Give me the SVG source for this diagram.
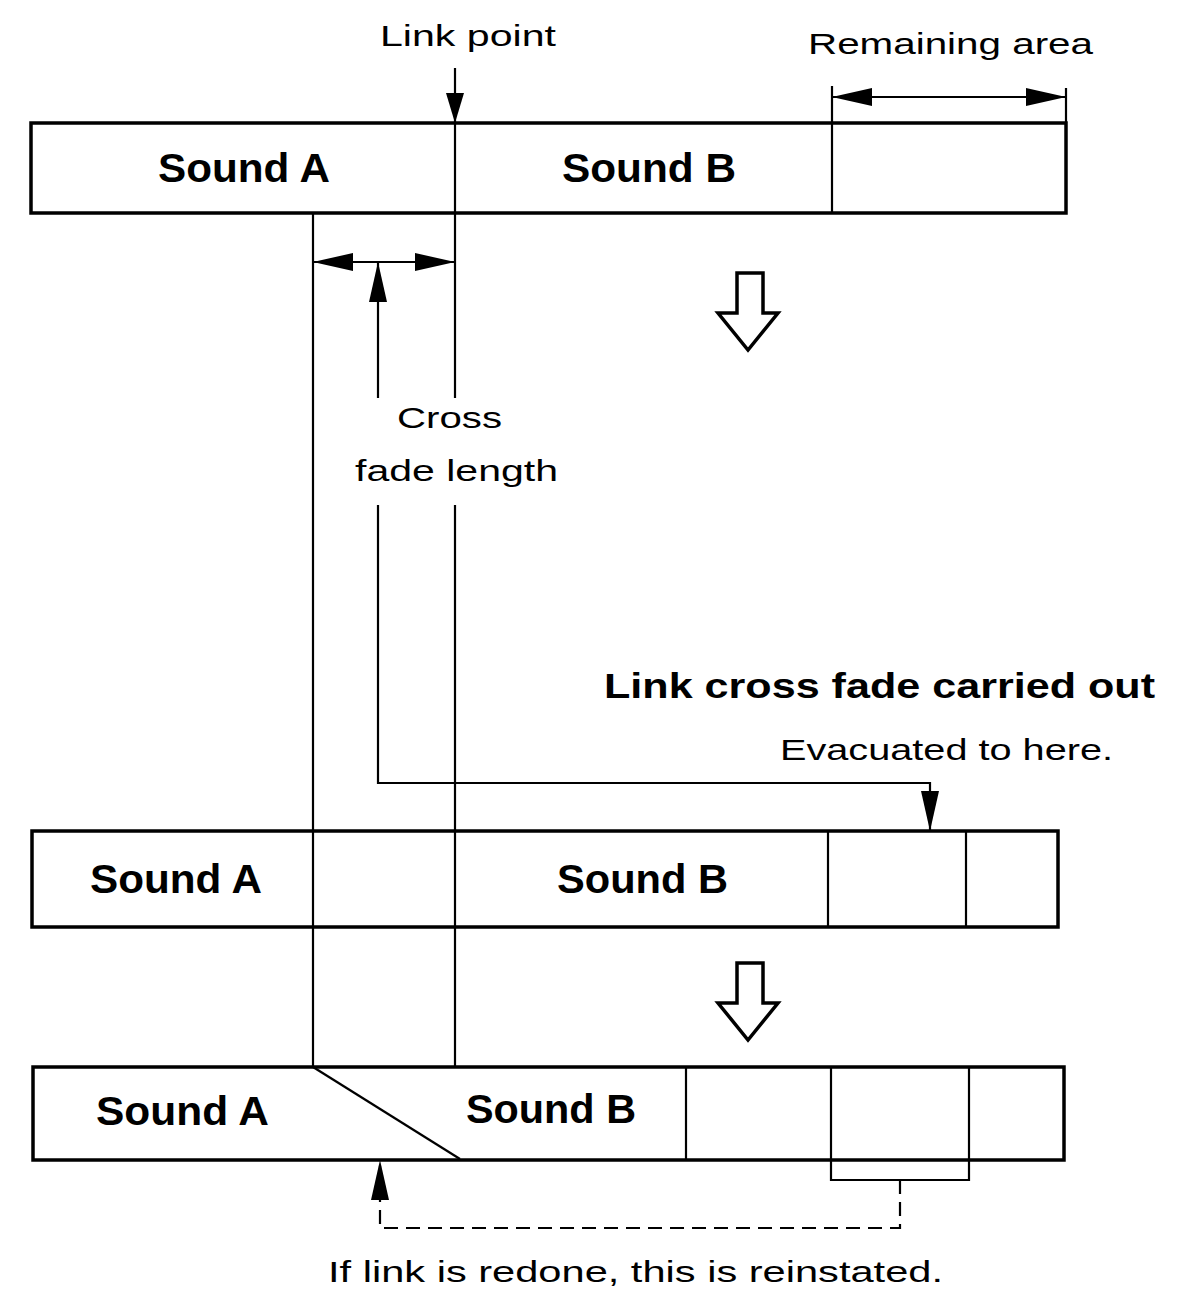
<svg xmlns="http://www.w3.org/2000/svg" width="1183" height="1290" viewBox="0 0 1183 1290">
<style>
.bg{fill:#fff}
.box{fill:#fff;stroke:#000;stroke-width:3.5}
.ln{fill:none;stroke:#000;stroke-width:2.2}
.dash{fill:none;stroke:#000;stroke-width:2.2;stroke-dasharray:14 8}
.hollow{fill:#fff;stroke:#000;stroke-width:3.5;stroke-linejoin:miter}
.t{font-family:"Liberation Sans",Arial,sans-serif;font-size:30px;fill:#000}
.tb{font-family:"Liberation Sans",Arial,sans-serif;font-size:40px;font-weight:bold;fill:#000}
.tm{font-family:"Liberation Sans",Arial,sans-serif;font-size:35px;font-weight:bold;fill:#000}
</style>
<defs>
<marker id="ah" viewBox="0 0 40 18" refX="40" refY="9" markerWidth="40" markerHeight="18" markerUnits="userSpaceOnUse" orient="auto-start-reverse"><path d="M0,0 L40,9 L0,18 z" fill="#000"/></marker>
<marker id="ahs" viewBox="0 0 30 18" refX="30" refY="9" markerWidth="30" markerHeight="18" markerUnits="userSpaceOnUse" orient="auto-start-reverse"><path d="M0,0 L30,9 L0,18 z" fill="#000"/></marker>
</defs>
<rect class="bg" x="0" y="0" width="1183" height="1290"/>

<g id="box1">
<rect class="box" x="31" y="123" width="1035" height="90"/>
<line class="ln" x1="455" y1="123" x2="455" y2="213"/>
<line class="ln" x1="832" y1="123" x2="832" y2="213"/>
<text class="tb" x="158" y="182" textLength="172" lengthAdjust="spacingAndGlyphs">Sound A</text>
<text class="tb" x="562" y="182" textLength="174" lengthAdjust="spacingAndGlyphs">Sound B</text>
</g>

<g id="box2">
<rect class="box" x="32" y="831" width="1026" height="96"/>
<line class="ln" x1="828" y1="831" x2="828" y2="927"/>
<line class="ln" x1="966" y1="831" x2="966" y2="927"/>
<text class="tb" x="90" y="893" textLength="172" lengthAdjust="spacingAndGlyphs">Sound A</text>
<text class="tb" x="557" y="893" textLength="171" lengthAdjust="spacingAndGlyphs">Sound B</text>
</g>

<g id="box3">
<rect class="box" x="33" y="1067" width="1031" height="93"/>
<line class="ln" x1="313" y1="1067" x2="460" y2="1159"/>
<line class="ln" x1="686" y1="1067" x2="686" y2="1160"/>
<line class="ln" x1="831" y1="1067" x2="831" y2="1160"/>
<line class="ln" x1="969" y1="1067" x2="969" y2="1160"/>
<text class="tb" x="96" y="1125" textLength="173" lengthAdjust="spacingAndGlyphs">Sound A</text>
<text class="tb" x="466" y="1123" textLength="170" lengthAdjust="spacingAndGlyphs">Sound B</text>
</g>

<g id="arrow1">
<path class="hollow" d="M737,273 L763,273 L763,313 L778,313 L748,350 L718,313 L737,313 Z"/>
</g>
<g id="arrow2">
<path class="hollow" d="M737,963 L763,963 L763,1003 L778,1003 L748,1040 L718,1003 L737,1003 Z"/>
</g>

<g id="labels">
<text class="t" x="380" y="46" textLength="176" lengthAdjust="spacingAndGlyphs">Link point</text>
<text class="t" x="808" y="54" textLength="285" lengthAdjust="spacingAndGlyphs">Remaining area</text>
<text class="t" x="397" y="428" textLength="105" lengthAdjust="spacingAndGlyphs">Cross</text>
<text class="t" x="355" y="481" textLength="203" lengthAdjust="spacingAndGlyphs">fade length</text>
<text class="tm" x="604" y="698" textLength="551" lengthAdjust="spacingAndGlyphs">Link cross fade carried out</text>
<text class="t" x="780" y="760" textLength="333" lengthAdjust="spacingAndGlyphs">Evacuated to here.</text>
<text class="t" x="328" y="1282" textLength="615" lengthAdjust="spacingAndGlyphs">If link is redone, this is reinstated.</text>
</g>

<g id="connectors">
<line class="ln" x1="455" y1="68" x2="455" y2="123" marker-end="url(#ahs)"/>
<line class="ln" x1="832" y1="86" x2="832" y2="123"/>
<line class="ln" x1="1066" y1="88" x2="1066" y2="123"/>
<line class="ln" x1="832" y1="97" x2="1066" y2="97" marker-start="url(#ah)" marker-end="url(#ah)"/>
<line class="ln" x1="313" y1="213" x2="313" y2="1067"/>
<line class="ln" x1="455" y1="213" x2="455" y2="398"/>
<line class="ln" x1="455" y1="505" x2="455" y2="1067"/>
<line class="ln" x1="313" y1="262" x2="455" y2="262" marker-start="url(#ah)" marker-end="url(#ah)"/>
<line class="ln" x1="378" y1="398" x2="378" y2="262" marker-end="url(#ah)"/>
<polyline class="ln" points="378,505 378,783 930,783 930,831" marker-end="url(#ah)"/>
<polyline class="ln" points="831,1160 831,1180 969,1180 969,1160"/>
<polyline class="dash" points="900,1180 900,1228 380,1228 380,1160" marker-end="url(#ah)"/>
</g>
</svg>
